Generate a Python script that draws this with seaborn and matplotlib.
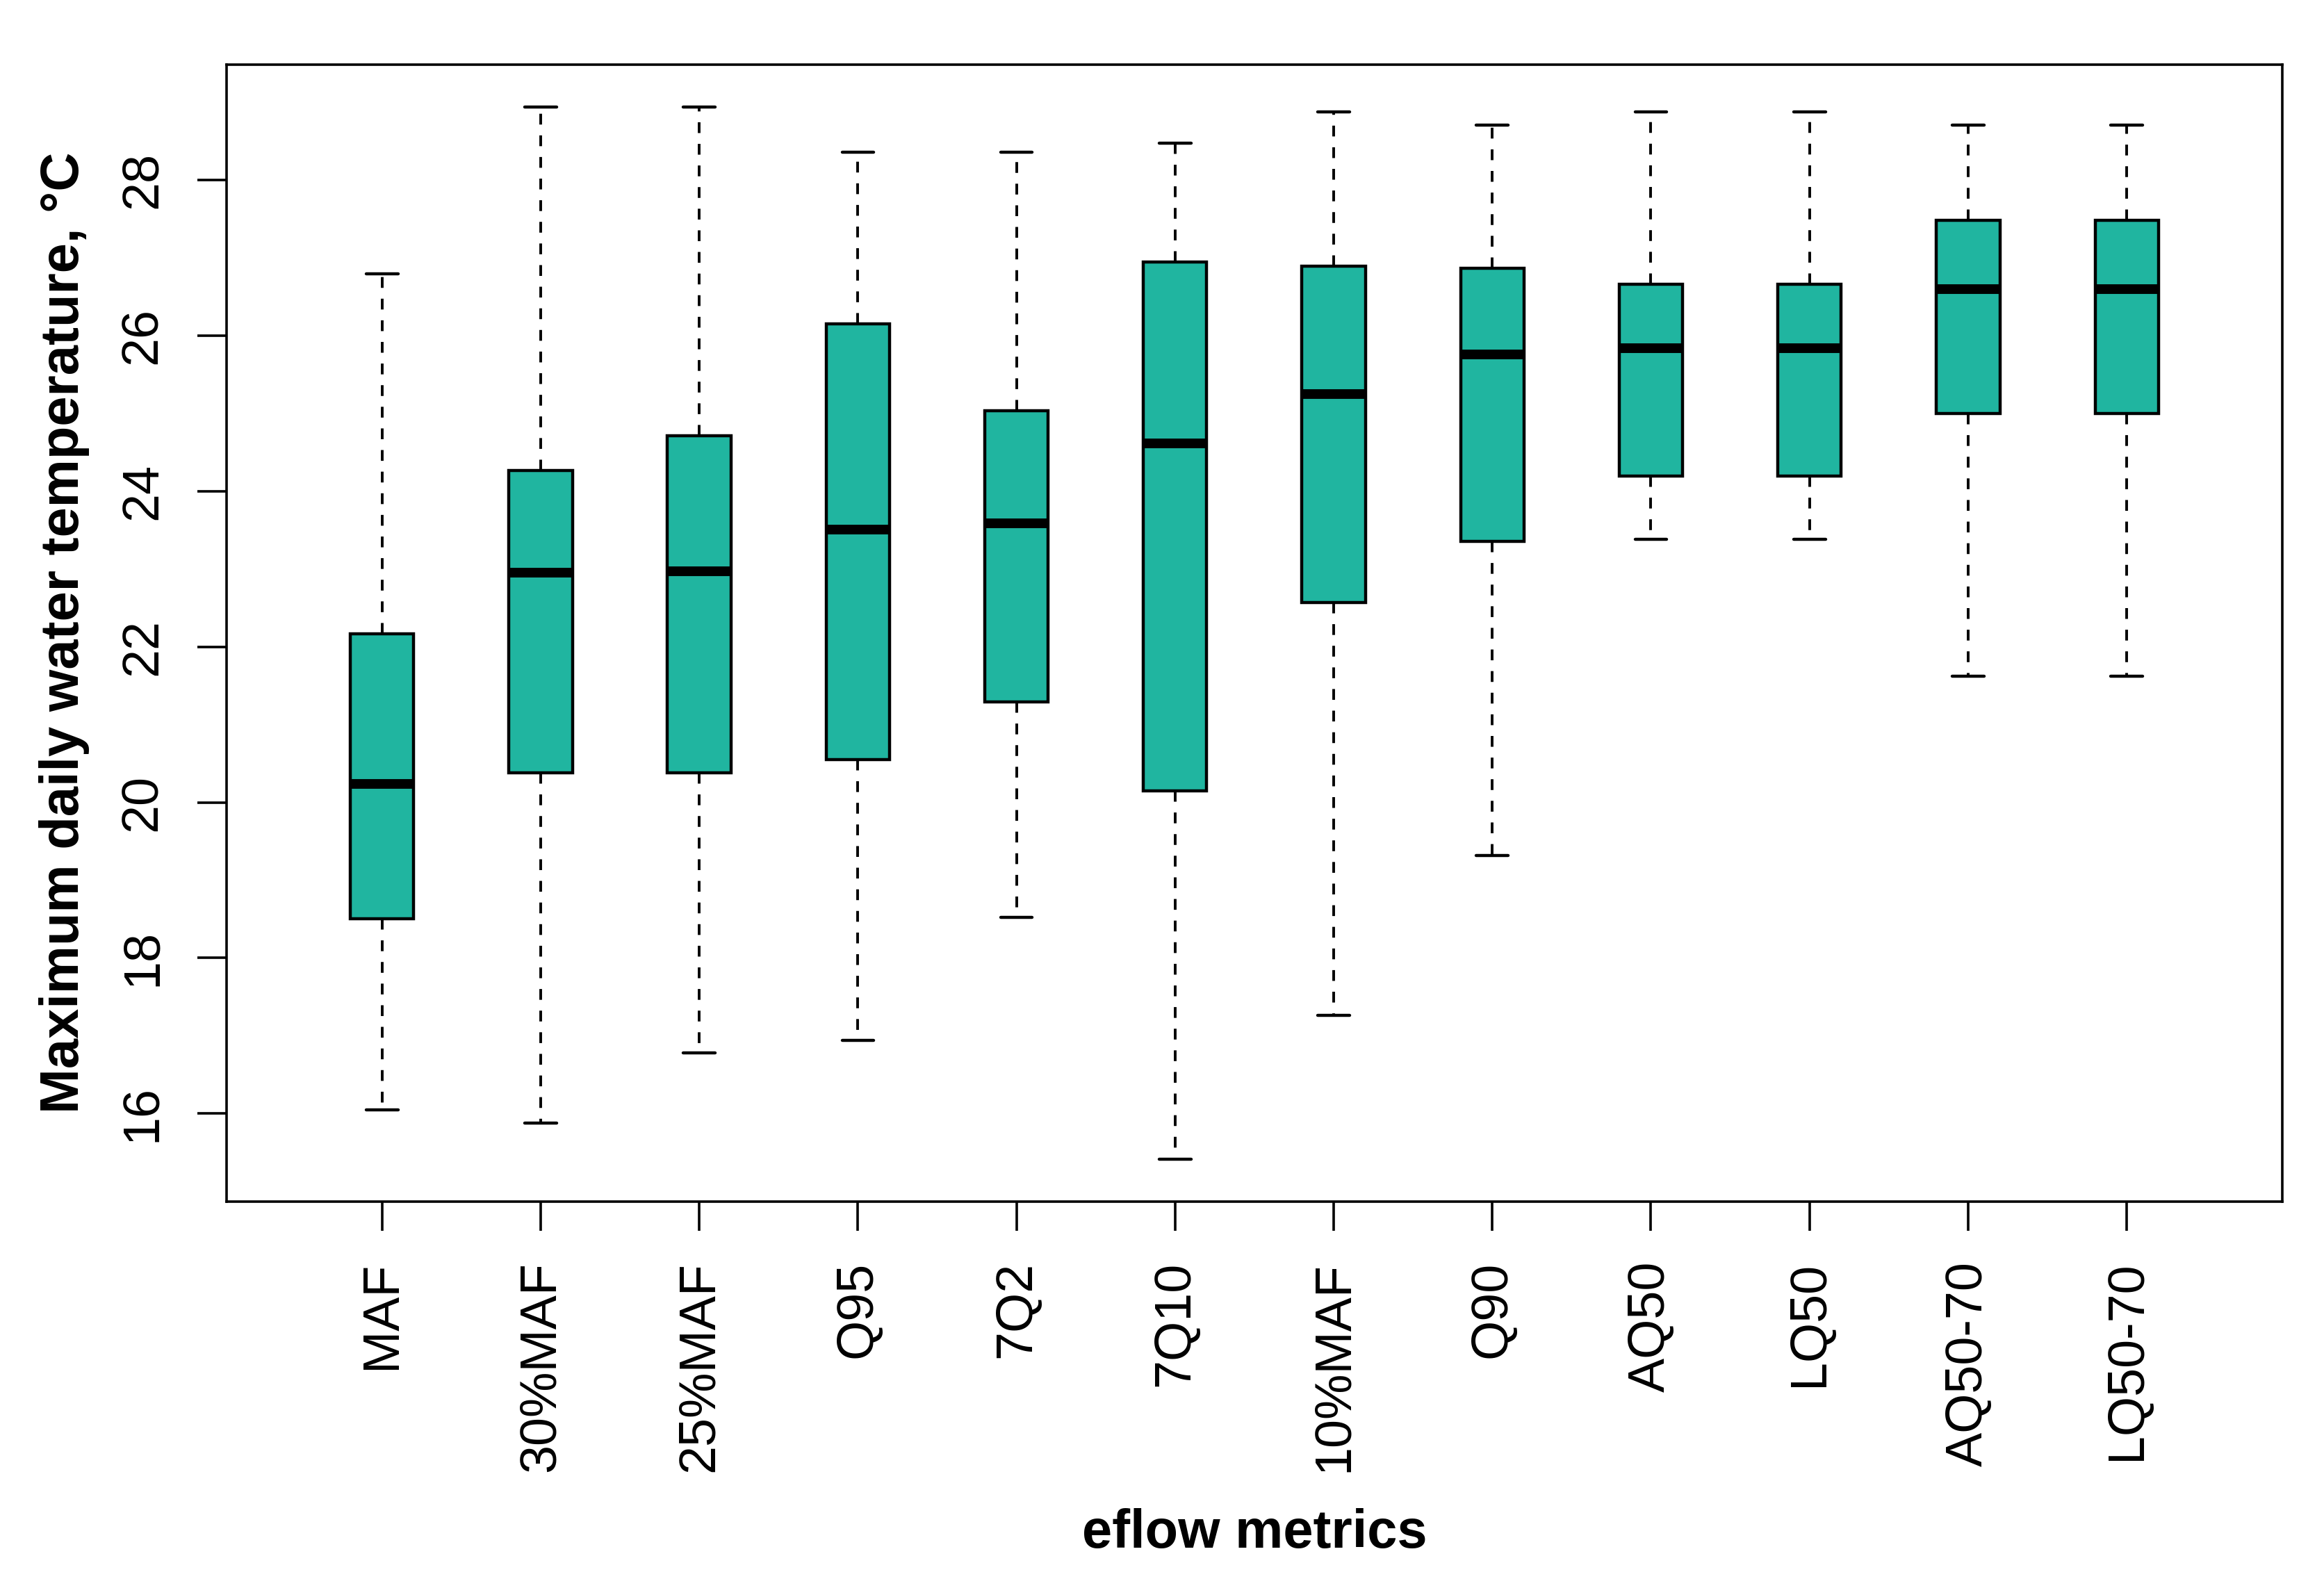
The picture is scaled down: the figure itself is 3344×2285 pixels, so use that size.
import numpy as np
import pandas as pd
import matplotlib
matplotlib.use("Agg")
import matplotlib.pyplot as plt
import seaborn as sns

metrics = ["MAF", "30%MAF", "25%MAF", "Q95", "7Q2", "7Q10", "10%MAF",
           "Q90", "AQ50", "LQ50", "AQ50-70", "LQ50-70"]
whisker_low = [16.05, 15.88, 16.78, 16.94, 18.52, 15.41, 17.26, 19.32, 23.38, 23.38, 21.62, 21.62]
q1 = [18.50, 20.38, 20.38, 20.55, 21.29, 20.15, 22.57, 23.36, 24.20, 24.20, 25.00, 25.00]
median = [20.24, 22.95, 22.97, 23.51, 23.59, 24.62, 25.25, 25.76, 25.84, 25.84, 26.60, 26.60]
q3 = [22.17, 24.27, 24.71, 26.15, 25.04, 26.95, 26.89, 26.87, 26.66, 26.66, 27.48, 27.48]
whisker_high = [26.80, 28.94, 28.94, 28.36, 28.36, 28.48, 28.88, 28.71, 28.88, 28.88, 28.71, 28.71]
yticks = [16, 18, 20, 22, 24, 26, 28]

rows = []
for i, m in enumerate(metrics):
    for v in (whisker_low[i], q1[i], median[i], q3[i], whisker_high[i]):
        rows.append({"metric": m, "temp": v})
df = pd.DataFrame(rows)

sns.set_style("ticks")
plt.rcParams["font.family"] = ["Liberation Sans", "DejaVu Sans"]
plt.rcParams["text.color"] = "black"
plt.rcParams["axes.labelcolor"] = "black"

fig = plt.figure(figsize=(16.72, 11.425), dpi=200)
ax = fig.add_axes([0.0975, 0.2435, 0.8845, 0.716])

fill = "#20B5A0"
sns.boxplot(data=df, x="metric", y="temp", order=metrics, ax=ax,
            whis=(0, 100), width=0.4, color=fill, fill=True, saturation=1,
            showfliers=False,
            boxprops=dict(facecolor=fill, edgecolor="black", linewidth=1.6),
            medianprops=dict(color="black", linewidth=5.0, solid_capstyle="butt"),
            whiskerprops=dict(color="black", linewidth=1.4, linestyle=(0, (4, 4))),
            capprops=dict(color="black", linewidth=1.6))

ax.set_xlim(-0.98, 11.98)
ax.set_ylim(14.87, 29.49)
ax.set_yticks(yticks)
ax.set_yticklabels([str(t) for t in yticks])
ax.tick_params(axis="y", direction="out", length=15, width=1.3, pad=16,
               labelsize=26.5, colors="black", labelrotation=90)
for lab in ax.get_yticklabels():
    lab.set_verticalalignment("center")
ax.tick_params(axis="x", direction="out", length=15, width=1.3, pad=16,
               labelsize=26.5, colors="black", labelrotation=90)
for sp in ax.spines.values():
    sp.set_visible(True)
    sp.set_linewidth(1.3)
    sp.set_color("black")

ax.set_xlabel("eflow metrics", fontsize=28, fontweight="bold", labelpad=19)
ax.set_ylabel("Maximum daily water temperature, °C", fontsize=28,
              fontweight="bold", labelpad=15)

fig.savefig("out.png", dpi=200, facecolor="white")
